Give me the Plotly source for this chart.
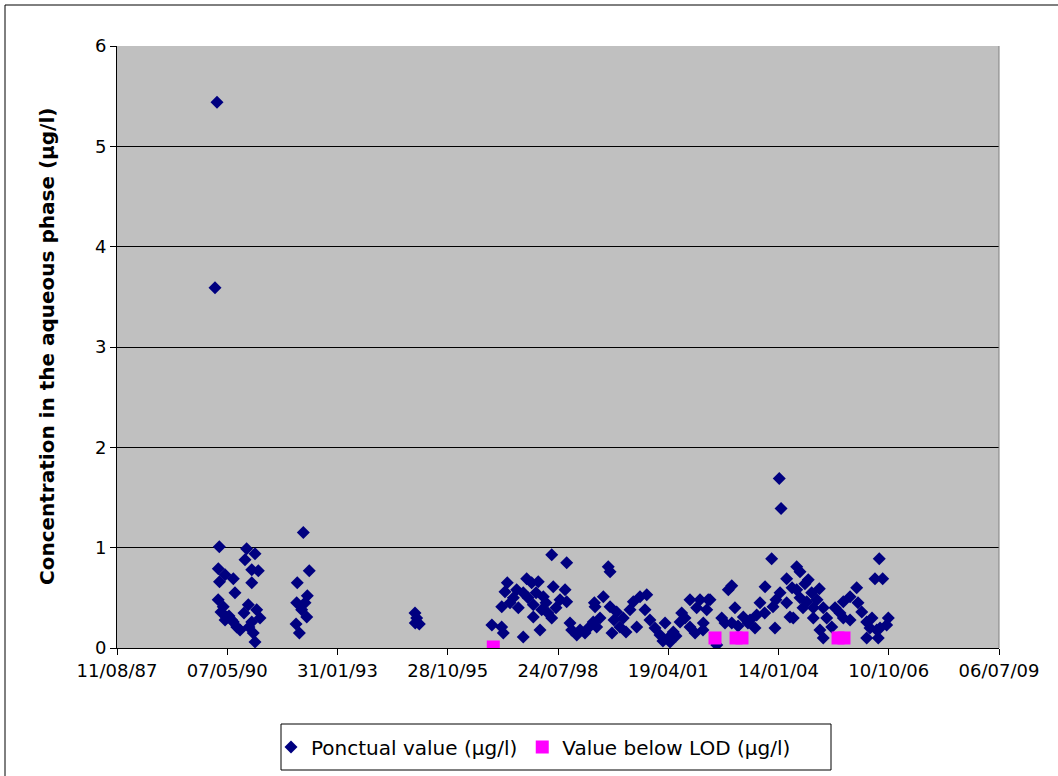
import pandas as pd
import plotly.graph_objects as go

# Sampling dates as Excel date serials (days since 1899-12-30)
ponctual_serial = [
    32889, 32907, 32928, 32919, 32930, 32980, 33055, 33070, 32918, 32964,
    32995, 32980, 33040, 33055, 33086, 33116, 33176, 33252, 33161, 33222,
    33282, 33222, 33191, 33267, 33297, 33222, 33236, 33252, 33016, 32943,
    33152, 33197,
    33624, 33635, 33630, 33654, 33675, 33690, 33705, 33721, 33726, 33744,
    34703, 34718, 34705, 34742,
    35400, 35489, 35504, 35490, 35519, 35540, 35595, 35625, 35640, 35685,
    35685, 35716, 35761, 35776, 35776, 35821, 35837, 35852, 35867, 35943,
    35943, 35957, 36018, 36064, 36079, 36079, 35565, 35728, 35801, 35891,
    35982, 35909, 36109, 36124, 36170, 36200, 36245, 36275, 36320, 36351,
    36336, 36330, 36411, 36456, 36472, 36472, 36532, 36562, 36592, 36653,
    36683, 36714, 36744, 36789, 36805, 36834, 36880, 36925, 36971, 37000,
    37046, 37107, 37122, 37197, 37197, 37243, 37258, 37288, 37315, 37349,
    37363, 36508, 36617, 36952, 37016, 37070, 37152, 36381, 36490,
    37318, 37379, 37440, 37485, 37545, 37576, 37576, 37605, 37681, 37723,
    37802, 37832, 37878, 37938, 37950, 37968, 38007, 38023, 38074, 38074,
    38104, 38134, 38165, 38165, 38195, 38195, 38240, 38256, 38270, 38301,
    38316, 38316, 38370, 38376, 38406, 38406, 38437, 38483, 38513, 38588,
    38588, 38649, 38649, 38709, 38755, 38800, 38800, 38830, 38875, 38891,
    38905, 38914, 38945, 38981, 38996, 37742, 37875, 37633, 38014, 37977,
    38123, 38222, 38349, 38558, 38721, 38848, 38921, 37515, 37787,
]
ponctual_value = [
    3.59, 5.44, 1.01, 0.79, 0.66, 0.73, 0.69, 0.55, 0.48, 0.41,
    0.31, 0.28, 0.28, 0.26, 0.21, 0.18, 0.99, 0.94, 0.88, 0.78,
    0.77, 0.65, 0.43, 0.38, 0.30, 0.26, 0.15, 0.06, 0.32, 0.36,
    0.35, 0.21,
    0.24, 0.65, 0.45, 0.15, 0.38, 1.15, 0.45, 0.31, 0.52, 0.77,
    0.35, 0.30, 0.25, 0.24,
    0.23, 0.21, 0.15, 0.41, 0.56, 0.65, 0.50, 0.58, 0.40, 0.55,
    0.11, 0.69, 0.65, 0.43, 0.31, 0.66, 0.18, 0.38, 0.51, 0.93,
    0.30, 0.61, 0.48, 0.58, 0.85, 0.46, 0.45, 0.50, 0.55, 0.45,
    0.40, 0.35, 0.25, 0.18, 0.13, 0.18, 0.15, 0.20, 0.26, 0.21,
    0.41, 0.45, 0.51, 0.81, 0.76, 0.41, 0.36, 0.21, 0.30, 0.38,
    0.46, 0.21, 0.51, 0.38, 0.53, 0.28, 0.20, 0.13, 0.25, 0.10,
    0.16, 0.26, 0.35, 0.48, 0.21, 0.15, 0.40, 0.48, 0.18, 0.38,
    0.48, 0.28, 0.16, 0.07, 0.06, 0.12, 0.30, 0.30, 0.15,
    0.25, 0.48, 0.03, 0.30, 0.58, 0.62, 0.25, 0.40, 0.31, 0.25,
    0.33, 0.45, 0.61, 0.89, 0.41, 0.20, 1.69, 1.39, 0.45, 0.69,
    0.31, 0.30, 0.58, 0.81, 0.76, 0.50, 0.64, 0.46, 0.68, 0.55,
    0.40, 0.30, 0.59, 0.18, 0.40, 0.10, 0.30, 0.21, 0.40, 0.46,
    0.30, 0.51, 0.28, 0.60, 0.36, 0.26, 0.10, 0.20, 0.69, 0.18,
    0.10, 0.89, 0.69, 0.23, 0.30, 0.28, 0.35, 0.22, 0.55, 0.48,
    0.60, 0.40, 0.48, 0.35, 0.45, 0.30, 0.20, 0.25, 0.20,
]

lod_serial = [35413, 37424, 37615, 37669, 38540, 38594]
lod_value = [0.01, 0.10, 0.10, 0.10, 0.10, 0.10]

ponctual_name = "Ponctual value (µg/l)"
lod_name = "Value below LOD (µg/l)"
y_title = "Concentration in the aqueous phase (µg/l)"


def to_date(serials):
    return pd.to_datetime(serials, unit="D", origin="1899-12-30")


FONT = "DejaVu Sans"
W, H = 1058, 776
ML, MR, MT, MB = 117, 59, 46, 128
PW, PH = W - ML - MR, H - MT - MB


def px_x(p):
    return (p - ML) / PW


def px_y(p):
    return (H - MB - p) / PH


fig = go.Figure()
fig.add_trace(go.Scatter(
    x=to_date(ponctual_serial), y=ponctual_value, mode="markers",
    name=ponctual_name,
    marker=dict(symbol="diamond", size=10, color="#000080", line=dict(width=0)),
))
fig.add_trace(go.Scatter(
    x=to_date(lod_serial), y=lod_value, mode="markers",
    name=lod_name,
    marker=dict(symbol="square", size=13, color="#FF00FF", line=dict(width=0)),
))

x_start = to_date([32000])[0]
x_end = to_date([40000])[0]

fig.update_layout(
    width=W, height=H,
    margin=dict(l=ML, r=MR, t=MT, b=MB, autoexpand=False),
    paper_bgcolor="white",
    plot_bgcolor="#C0C0C0",
    font=dict(family=FONT, size=18, color="black"),
    showlegend=True,
    legend=dict(
        orientation="h", x=px_x(271), y=px_y(747), xanchor="left", yanchor="middle",
        borderwidth=0, bgcolor="rgba(0,0,0,0)",
        font=dict(family=FONT, size=20, color="black"),
        itemwidth=30,
    ),
    xaxis=dict(
        type="date", range=[x_start, x_end],
        tick0=x_start, dtick=86400000 * 1000, tickformat="%d/%m/%y",
        showgrid=False, zeroline=False,
        showline=True, linecolor="black", linewidth=1,
        ticks="outside", ticklen=6, tickcolor="black",
        tickfont=dict(family=FONT, size=18),
    ),
    yaxis=dict(
        range=[0, 6], dtick=1, tick0=0,
        showgrid=True, gridcolor="black", gridwidth=1,
        zeroline=False,
        showline=True, linecolor="black", linewidth=1,
        ticks="outside", ticklen=6, tickcolor="black",
        tickfont=dict(family=FONT, size=18),
    ),
    annotations=[dict(
        text="<b>" + y_title + "</b>", textangle=-90,
        xref="paper", yref="paper", x=px_x(47), y=0.5,
        xanchor="center", yanchor="middle", showarrow=False,
        font=dict(family=FONT, size=20, color="black"),
    )],
    shapes=[
        dict(type="line", xref="paper", yref="paper", x0=1, x1=1, y0=0, y1=1,
             line=dict(color="#808080", width=1)),
        # outer chart border
        dict(type="rect", xref="paper", yref="paper",
             x0=px_x(5), x1=px_x(1080), y0=px_y(800), y1=px_y(5),
             line=dict(color="black", width=1), fillcolor="rgba(0,0,0,0)"),
        # legend frame
        dict(type="rect", xref="paper", yref="paper",
             x0=px_x(281), x1=px_x(831), y0=px_y(770), y1=px_y(724),
             line=dict(color="black", width=1), fillcolor="rgba(0,0,0,0)"),
    ],
)

fig.write_html(
    "out.html",
    config={"displayModeBar": False},
    post_script="document.body.style.margin='0';",
)
